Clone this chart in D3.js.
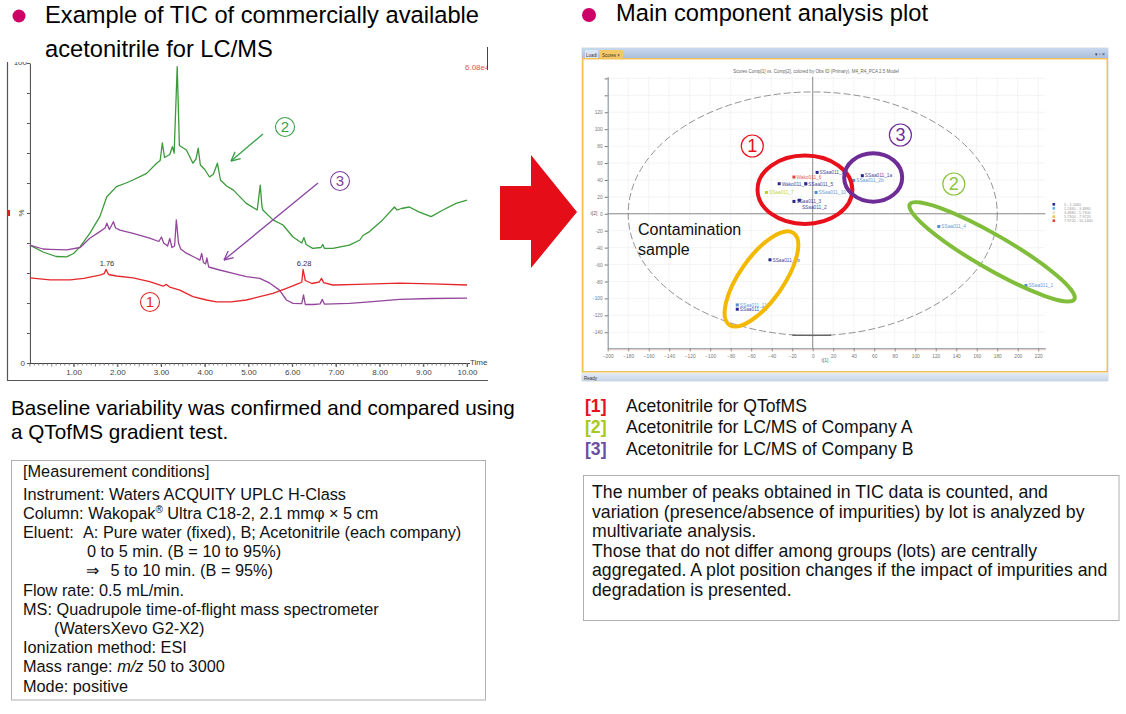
<!DOCTYPE html>
<html>
<head>
<meta charset="utf-8">
<script src="https://cdn.jsdelivr.net/npm/d3@7/dist/d3.min.js"></script>
<style>
html,body{margin:0;padding:0;background:#fff;}
svg{display:block;}
text{font-family:"Liberation Sans", Arial, Helvetica, sans-serif;}
</style>
</head>
<body>
<svg id="fig" width="1126" height="714"></svg>
<script>
// ================= DATA =================
// TIC chromatograms: retention time (min) and relative intensity (%)
const greenTime = [0,0.3,0.6,0.84,1.0,1.15,1.37,1.6,1.76,1.98,2.2,2.36,2.67,2.9,2.98,3.03,3.08,3.2,3.26,3.3,3.37,3.42,3.58,3.73,3.8,3.85,3.9,4.0,4.11,4.2,4.29,4.36,4.5,4.65,4.95,5.2,5.27,5.31,5.33,5.56,5.79,6.02,6.22,6.27,6.32,6.47,6.66,6.7,6.74,6.93,7.31,7.55,7.62,7.77,8.07,8.34,8.4,8.5,8.68,8.91,9.18,9.45,9.75,10.0];
const greenPct  = [39.3,37,35.5,35.4,36.5,38.8,43.2,48.8,55.4,58.8,60,61,63.2,66.6,67.5,73.4,68.5,69.5,72.1,70,98.8,72.5,71,66.6,68,71.6,66,64.5,62,63,66.6,61,59,57.7,53.2,51,59.3,52,51,47.7,46,42,40,41.8,39.5,38.2,38.5,39.5,38.2,38.2,39.3,41,42.5,43.8,47.7,52,51,51.5,52,50.3,48.8,51,53.2,54.3];
const purpleTime = [0,0.3,0.46,0.84,1.15,1.37,1.6,1.72,1.76,1.82,1.91,1.96,2.06,2.36,2.74,2.95,3.01,3.06,3.15,3.2,3.25,3.31,3.35,3.4,3.45,3.58,3.8,3.89,3.93,3.97,4.02,4.05,4.09,4.34,4.65,4.95,5.26,5.49,5.71,5.87,6.02,6.22,6.26,6.3,6.5,6.64,6.69,6.74,7.31,7.7,8.46,9.2,10.0];
const purplePct  = [39.3,38,37.9,37.7,38.5,41.6,43.8,45,46.6,44.5,47.1,45,44.3,43.2,41.6,40.5,42,40,39,41.5,38.5,39,47.7,40,38,36.6,35,34.3,36.5,33.5,33,35,32,31,29.9,28.8,28.2,26.6,24.3,21,19.9,19.8,22.7,19.5,19.5,19.7,21.2,19.6,19.9,20.3,21.2,21.5,21.6];
const redTime = [0,0.46,0.92,1.23,1.6,1.7,1.74,1.8,1.98,2.36,2.74,3.05,3.12,3.2,3.43,3.73,4.04,4.27,4.6,4.95,5.26,5.56,5.87,6.17,6.22,6.25,6.3,6.45,6.62,6.67,6.72,6.93,7.5,8.46,9.2,10.0];
const redPct  = [28.4,27.7,27.7,28.2,29.3,29.8,31.2,29.5,29,28.4,27.1,25.6,26.2,25.3,24.3,22.1,21,20.4,20.4,21,22.1,23.2,24.9,26.6,27,31.2,27.5,26.5,27,28.2,26.8,26,26.2,26.6,26.4,26];
const ticXTicks = [1,2,3,4,5,6,7,8,9,10];
const ticYTicks = [0,10,20,30,40,50,60,70,80,90,100];
const ticPeakTime  = [1.74, 6.25];
const ticPeakPct   = [31.2, 31.2];
const ticPeakLabel = ["1.76", "6.28"];

// PCA score plot: t[1], t[2]
const pcaLabels = ["SSaa011_8","Wako011_6","Wako011_9","SSaa011_5","SSaa011_7","SSaa011_10","SSaa011_3","SSaa011_2","SSaa011_1a","SSaa011_2b","SSaa011_4","SSaa011_1","SSaa011_7b","SSaa011_11","SSaa011_12"];
const pcaT1 = [4.3,-18.3,-32.7,-6.7,-45.1,3.3,-18.3,-13,48.4,40,123,208,-41.7,-73.6,-73.6];
const pcaT2 = [48.9,43.4,35.5,35.5,25.2,25.2,14.6,16,45,39.4,-15,-84.8,-54.4,-107.7,-112.8];
const pcaClass = [0,4,0,0,3,1,0,0,0,1,1,1,0,1,0];
const pcaXTicks = [-200,-180,-160,-140,-120,-100,-80,-60,-40,-20,0,20,40,60,80,100,120,140,160,180,200,220];
const pcaYTicks = [-140,-120,-100,-80,-60,-40,-20,0,20,40,60,80,100,120];
const hotellingT1 = 180, hotellingT2 = 144;
const legendLabels = ["0 - 1.2460","1.2460 - 3.4880","3.4880 - 5.7300","5.7300 - 7.9720","7.9720 - 10.1400"];

// ================= DRAWING =================
const svg = d3.select("#fig");
const defs = svg.append("defs");
const classColors = ["#25288a","#4f8fd0","#e6e3c8","#b9d22c","#e0443c"];
const legendColors = ["#25288a","#5bb3e3","#e6e3c8","#f2c24a","#e0443c"];
const labelDy = [0,0,0,0,0,0,0,7,0,0,0,0,0,0,0]; // label placement tweak (style)

// ---------- headings ----------
function bullet(cx, cy, r) { svg.append("circle").attr("cx", cx).attr("cy", cy).attr("r", r).attr("fill", "#cd0067"); }
bullet(19, 16, 6.5);
svg.append("text").attr("x", 45).attr("y", 23).attr("font-size", 23.7).attr("fill", "#000").text("Example of TIC of commercially available");
svg.append("text").attr("x", 45).attr("y", 57).attr("font-size", 23.7).attr("fill", "#000").text("acetonitrile for LC/MS");
bullet(589, 15, 7);
svg.append("text").attr("x", 616).attr("y", 21).attr("font-size", 23.7).attr("fill", "#000").text("Main component analysis plot");

// ---------- TIC chart ----------
defs.append("clipPath").attr("id", "ticClip").append("rect").attr("x", 0).attr("y", 62).attr("width", 488).attr("height", 325);
const tic = svg.append("g").attr("clip-path", "url(#ticClip)");
const tx = d3.scaleLinear().domain([0, 10]).range([29.9, 467]);
const ty = d3.scaleLinear().domain([0, 100]).range([363, 63]);

// outer frame
tic.append("line").attr("x1", 7.5).attr("x2", 7.5).attr("y1", 61).attr("y2", 380.5).attr("stroke", "#555").attr("stroke-width", 1.2);
tic.append("line").attr("x1", 7).attr("x2", 488).attr("y1", 380.5).attr("y2", 380.5).attr("stroke", "#555").attr("stroke-width", 1.2);
svg.append("line").attr("x1", 487.5).attr("x2", 487.5).attr("y1", 47).attr("y2", 70).attr("stroke", "#444").attr("stroke-width", 1);
tic.append("rect").attr("x", 7).attr("y", 210).attr("width", 3).attr("height", 6).attr("fill", "#e02020");

// axes
const xAx = d3.axisBottom(tx).tickValues(ticXTicks).tickFormat(d => d.toFixed(2)).tickSize(4).tickSizeOuter(0).tickPadding(2);
tic.append("g").attr("transform", "translate(0,363)").call(xAx).call(g => {
  g.select(".domain").attr("stroke", "#444").attr("d", "M29.9,0.5H470");
  g.selectAll("line").attr("stroke", "#555");
  g.selectAll("text").attr("font-size", 8).attr("fill", "#444").attr("font-family", '"Liberation Sans", Arial, sans-serif');
});
const minorT = tx.ticks(100);
tic.append("g").selectAll("line").data(minorT).join("line")
  .attr("x1", d => tx(d)).attr("x2", d => tx(d)).attr("y1", 363).attr("y2", d => (Math.round(d * 10) % 5 === 0 ? 366.5 : 365.5))
  .attr("stroke", "#666").attr("stroke-width", 0.8);
const yAx = d3.axisLeft(ty).tickValues(ticYTicks).tickFormat("").tickSize(3).tickSizeOuter(0);
tic.append("g").attr("transform", "translate(29.9,0)").call(yAx).call(g => {
  g.select(".domain").attr("stroke", "#444");
  g.selectAll("line").attr("stroke", "#555");
});
tic.append("text").attr("x", 25).attr("y", 366).attr("text-anchor", "end").attr("font-size", 8).attr("fill", "#444").text("0");
tic.append("text").attr("x", 27).attr("y", 65).attr("text-anchor", "end").attr("font-size", 8).attr("fill", "#444").text("100");
tic.append("text").attr("transform", "translate(24,213) rotate(-90)").attr("text-anchor", "middle").attr("font-size", 8).attr("fill", "#444").text("%");
tic.append("text").attr("x", 470).attr("y", 365).attr("font-size", 8).attr("fill", "#444").text("Time");
tic.append("text").attr("x", 465).attr("y", 70).attr("font-size", 8).attr("fill", "#e05050").text("6.08e4");

// series
const line = d3.line().x(d => tx(d[0])).y(d => ty(d[1]));
const series = [
  { t: greenTime, v: greenPct, c: "#3b9a3b" },
  { t: purpleTime, v: purplePct, c: "#94459c" },
  { t: redTime, v: redPct, c: "#e5262a" }
];
series.forEach(s => {
  tic.append("path").datum(d3.zip(s.t, s.v)).attr("d", line).attr("fill", "none")
    .attr("stroke", s.c).attr("stroke-width", 1.3).attr("stroke-linejoin", "round");
});
ticPeakTime.forEach((t, i) => {
  tic.append("text").attr("x", tx(t) + 1).attr("y", ty(ticPeakPct[i]) - 3).attr("text-anchor", "middle")
    .attr("font-size", 7.5).attr("fill", "#333").text(ticPeakLabel[i]);
});

// annotations
function circled(g, x, y, r, num, color, fs, sw) {
  g.append("circle").attr("cx", x).attr("cy", y).attr("r", r).attr("fill", "none").attr("stroke", color).attr("stroke-width", sw);
  g.append("text").attr("x", x).attr("y", y + fs * 0.36).attr("text-anchor", "middle").attr("font-size", fs)
    .attr("fill", color).text(num);
}
function arrow(g, x1, y1, x2, y2, color) {
  g.append("line").attr("x1", x1).attr("y1", y1).attr("x2", x2).attr("y2", y2).attr("stroke", color).attr("stroke-width", 1.3);
  const a = Math.atan2(y2 - y1, x2 - x1), L = 10, sp = 0.45;
  [a + Math.PI - sp, a + Math.PI + sp].forEach(b => {
    g.append("line").attr("x1", x2).attr("y1", y2).attr("x2", x2 + L * Math.cos(b)).attr("y2", y2 + L * Math.sin(b))
      .attr("stroke", color).attr("stroke-width", 1.3);
  });
}
arrow(tic, 263, 134, 231, 161, "#3aa048");
arrow(tic, 318, 183, 224, 260, "#8a45a5");
circled(tic, 285, 127, 9.5, "2", "#3aa048", 15, 1.1);
circled(tic, 340, 181, 9.5, "3", "#7d3f9f", 15, 1.1);
circled(tic, 150, 302, 9.5, "1", "#e02a2a", 15, 1.1);

// ---------- red block arrow ----------
svg.append("path").attr("d", "M500,186 L531,186 L531,155 L577,212 L531,268 L531,240 L500,240 Z").attr("fill", "#e50d18");

// ---------- text below TIC ----------
svg.append("text").attr("x", 11).attr("y", 415).attr("font-size", 20.7).text("Baseline variability was confirmed and compared using");
svg.append("text").attr("x", 11).attr("y", 438.5).attr("font-size", 20.7).text("a QTofMS gradient test.");

svg.append("rect").attr("x", 11.5).attr("y", 460.5).attr("width", 474).attr("height", 239.5).attr("fill", "none").attr("stroke", "#b0b0b0").attr("stroke-width", 1);
const mFs = 16.3;
function mline(x, y) { return svg.append("text").attr("x", x).attr("y", y).attr("font-size", mFs).attr("fill", "#111"); }
mline(23, 477).text("[Measurement conditions]");
mline(23, 499.5).text("Instrument: Waters ACQUITY UPLC H-Class");
{
  const t = mline(23, 518.7);
  t.append("tspan").text("Column: Wakopak");
  t.append("tspan").attr("font-size", 10).attr("dy", -6).text("®");
  t.append("tspan").attr("dy", 6).text(" Ultra C18-2, 2.1 mmφ × 5 cm");
}
mline(23, 537.9).text("Eluent:");
mline(83, 537.9).text("A: Pure water (fixed), B; Acetonitrile (each company)");
mline(87, 557.1).text("0 to 5 min. (B = 10 to 95%)");
mline(86, 576.3).text("⇒");
mline(110.5, 576.3).text("5 to 10 min. (B = 95%)");
mline(23, 595.5).text("Flow rate: 0.5 mL/min.");
mline(23, 614.7).text("MS: Quadrupole time-of-flight mass spectrometer");
mline(54, 633.9).text("(WatersXevo G2-X2)");
mline(23, 653.1).text("Ionization method: ESI");
{
  const t = mline(23, 672.3);
  t.append("tspan").text("Mass range: ");
  t.append("tspan").attr("font-style", "italic").text("m/z");
  t.append("tspan").text(" 50 to 3000");
}
mline(23, 691.5).text("Mode: positive");

// ---------- PCA window ----------
const tb = defs.append("linearGradient").attr("id", "tb").attr("x1", 0).attr("x2", 0).attr("y1", 0).attr("y2", 1);
tb.append("stop").attr("offset", 0).attr("stop-color", "#c9d8ec");
tb.append("stop").attr("offset", 1).attr("stop-color", "#a8bedc");
const sb = defs.append("linearGradient").attr("id", "sb").attr("x1", 0).attr("x2", 0).attr("y1", 0).attr("y2", 1);
sb.append("stop").attr("offset", 0).attr("stop-color", "#e4ecf6");
sb.append("stop").attr("offset", 1).attr("stop-color", "#c6d4e8");

const win = svg.append("g");
win.append("rect").attr("x", 582).attr("y", 48).attr("width", 526).attr("height", 333).attr("fill", "#fff").attr("stroke", "#c9d2de").attr("stroke-width", 0.8);
win.append("rect").attr("x", 582).attr("y", 48).attr("width", 526).attr("height", 10.5).attr("fill", "url(#tb)");
win.append("rect").attr("x", 585).attr("y", 50).attr("width", 13).attr("height", 8.5).attr("fill", "#dce6f3");
win.append("text").attr("x", 586).attr("y", 56.5).attr("font-size", 4.5).attr("fill", "#333").text("Loadi");
win.append("rect").attr("x", 600).attr("y", 50).attr("width", 23).attr("height", 8.5).attr("fill", "#f5c866");
win.append("text").attr("x", 602).attr("y", 56.5).attr("font-size", 4.5).attr("fill", "#333").text("Scores  ×");
win.append("text").attr("x", 1105).attr("y", 56).attr("text-anchor", "end").attr("font-size", 5).attr("fill", "#445").text("▾ ▫ ×");
win.append("rect").attr("x", 582.75).attr("y", 58.75).attr("width", 524.5).attr("height", 313).attr("fill", "none").attr("stroke", "#f2c15a").attr("stroke-width", 1.5);
win.append("rect").attr("x", 582).attr("y", 373).attr("width", 526).attr("height", 8).attr("fill", "url(#sb)");
win.append("text").attr("x", 584).attr("y", 379.5).attr("font-size", 4.5).attr("fill", "#333").text("Ready");

const px = d3.scaleLinear().domain([-200, 227]).range([607.7, 1045.4]);
const py = d3.scaleLinear().domain([-159, 162]).range([348.3, 76.7]);

// title
win.append("text").attr("x", 816).attr("y", 73).attr("text-anchor", "middle").attr("font-size", 4.5).attr("fill", "#666")
  .text("Scores Comp[1] vs. Comp[2], colored by Obs ID (Primary), M4_R4_PCA 2.5 Model");

// grid
win.append("g").selectAll("line").data(pcaXTicks).join("line")
  .attr("x1", d => px(d)).attr("x2", d => px(d)).attr("y1", py(162)).attr("y2", py(-159))
  .attr("stroke", "#e4e4e4").attr("stroke-width", 0.6).attr("stroke-dasharray", "2,1");
win.append("g").selectAll("line").data(pcaYTicks.concat([140, 160])).join("line")
  .attr("x1", px(-200)).attr("x2", px(227)).attr("y1", d => py(d)).attr("y2", d => py(d))
  .attr("stroke", "#e4e4e4").attr("stroke-width", 0.6).attr("stroke-dasharray", "2,1");

// axes
const pxAx = d3.axisBottom(px).tickValues(pcaXTicks).tickSize(3).tickSizeOuter(0).tickPadding(3);
win.append("g").attr("transform", `translate(0,${py(-159)})`).call(pxAx).call(g => {
  g.select(".domain").attr("stroke", "#7a8a99").attr("stroke-width", 1);
  g.selectAll("line").attr("stroke", "#777");
  g.selectAll("text").attr("font-size", 4.8).attr("fill", "#777").attr("font-family", '"Liberation Sans", Arial, sans-serif');
});
win.append("line").attr("x1", px(-200)).attr("x2", px(227)).attr("y1", py(-159) + 1.5).attr("y2", py(-159) + 1.5).attr("stroke", "#f0b8a0").attr("stroke-width", 0.6);
const pyAx = d3.axisLeft(py).tickValues(pcaYTicks.concat([140, 160])).tickFormat(d => (d > 120 ? "" : d)).tickSize(3).tickSizeOuter(0).tickPadding(2);
win.append("g").attr("transform", `translate(${px(-200)},0)`).call(pyAx).call(g => {
  g.select(".domain").attr("stroke", "#7a8a99").attr("stroke-width", 1);
  g.selectAll("line").attr("stroke", "#777");
  g.selectAll("text").attr("font-size", 4.8).attr("fill", "#777").attr("font-family", '"Liberation Sans", Arial, sans-serif');
});
win.append("text").attr("x", px(12)).attr("y", 362).attr("text-anchor", "middle").attr("font-size", 5).attr("fill", "#666").text("t[1]");
win.append("text").attr("x", 594).attr("y", 215).attr("text-anchor", "middle").attr("font-size", 5).attr("fill", "#666").text("t[2]");

// cross-hair at origin
win.append("line").attr("x1", px(0)).attr("x2", px(0)).attr("y1", py(162)).attr("y2", py(-159)).attr("stroke", "#8c8c8c").attr("stroke-width", 1);
win.append("line").attr("x1", px(-200)).attr("x2", px(227)).attr("y1", py(0)).attr("y2", py(0)).attr("stroke", "#8c8c8c").attr("stroke-width", 1);

// Hotelling T2 ellipse
const hx = px(hotellingT1) - px(0), hy = py(0) - py(hotellingT2);
win.append("ellipse").attr("cx", px(0)).attr("cy", py(0)).attr("rx", hx).attr("ry", hy)
  .attr("fill", "none").attr("stroke", "#777").attr("stroke-width", 0.8).attr("stroke-dasharray", "7,3");
win.append("line").attr("x1", px(-20)).attr("x2", px(18)).attr("y1", py(-143.5)).attr("y2", py(-143.5)).attr("stroke", "#666").attr("stroke-width", 1.4);

// points
const pts = d3.range(pcaT1.length);
win.append("g").selectAll("rect").data(pts).join("rect")
  .attr("x", i => px(pcaT1[i]) - 1.5).attr("y", i => py(pcaT2[i]) - 1.5).attr("width", 3).attr("height", 3)
  .attr("fill", i => classColors[pcaClass[i]]);
win.append("g").selectAll("text").data(pts).join("text")
  .attr("x", i => px(pcaT1[i]) + 2.5).attr("y", i => py(pcaT2[i]) + 1.8 + labelDy[i]).attr("font-size", 4.8)
  .attr("fill", i => classColors[pcaClass[i]]).attr("opacity", 0.85).text(i => pcaLabels[i]);

// legend
win.append("g").selectAll("rect").data(legendLabels).join("rect")
  .attr("x", 1052.5).attr("y", (d, i) => 203 + i * 4.1).attr("width", 2.6).attr("height", 2.6)
  .attr("fill", (d, i) => legendColors[i]);
win.append("g").selectAll("text").data(legendLabels).join("text")
  .attr("x", 1064).attr("y", (d, i) => 206 + i * 4.1).attr("font-size", 3.8).attr("fill", "#999").text(d => d);

// annotation ellipses (group outlines)
const groupRings = [
  { t1: -7.6, t2: 28.4, rx: 47.4, ry: 34.2, rot: 0, c: "#e8101a" },
  { t1: 59, t2: 42.9, rx: 29, ry: 24.2, rot: 0, c: "#6e2c96" },
  { t1: -50, t2: -77, rx: 56, ry: 22, rot: -55, c: "#f3b800" },
  { t1: 175, t2: -45, rx: 95, ry: 17, rot: 30, c: "#80bd3a" }
];
groupRings.forEach(r => {
  win.append("ellipse").attr("cx", 0).attr("cy", 0).attr("rx", r.rx).attr("ry", r.ry)
    .attr("transform", `translate(${px(r.t1)},${py(r.t2)}) rotate(${r.rot})`)
    .attr("fill", "none").attr("stroke", r.c).attr("stroke-width", 4);
});
circled(win, 752.3, 146, 11, "1", "#e8101a", 18, 1.2);
circled(win, 900.4, 135, 11, "3", "#6e2c96", 18, 1.2);
circled(win, 953.8, 184, 11, "2", "#8cc43c", 18, 1.2);
win.append("text").attr("x", 638).attr("y", 235).attr("font-size", 16).attr("fill", "#111").text("Contamination");
win.append("text").attr("x", 638).attr("y", 255).attr("font-size", 16).attr("fill", "#111").text("sample");

// ---------- legend & note (right) ----------
const keyColors = ["#e8101a", "#a8c820", "#6a4fa0"];
const keyText = ["Acetonitrile for QTofMS", "Acetonitrile for LC/MS of Company A", "Acetonitrile for LC/MS of Company B"];
keyText.forEach((t, i) => {
  svg.append("text").attr("x", 585).attr("y", 412 + i * 21.3).attr("font-size", 17.6).attr("font-weight", "bold").attr("fill", keyColors[i]).text(`[${i + 1}]`);
  svg.append("text").attr("x", 626).attr("y", 412 + i * 21.3).attr("font-size", 17.6).attr("fill", "#111").text(t);
});
svg.append("rect").attr("x", 583.5).attr("y", 475.5).attr("width", 535.5).attr("height", 145).attr("fill", "none").attr("stroke", "#b0b0b0").attr("stroke-width", 1);
const note = [
  "The number of peaks obtained in TIC data is counted, and",
  "variation (presence/absence of impurities) by lot is analyzed by",
  "multivariate analysis.",
  "Those that do not differ among groups (lots) are centrally",
  "aggregated. A plot position changes if the impact of impurities and",
  "degradation is presented."
];
note.forEach((t, i) => {
  svg.append("text").attr("x", 592).attr("y", 498 + i * 19.5).attr("font-size", 17.7).attr("fill", "#111").text(t);
});
</script>
</body>
</html>
